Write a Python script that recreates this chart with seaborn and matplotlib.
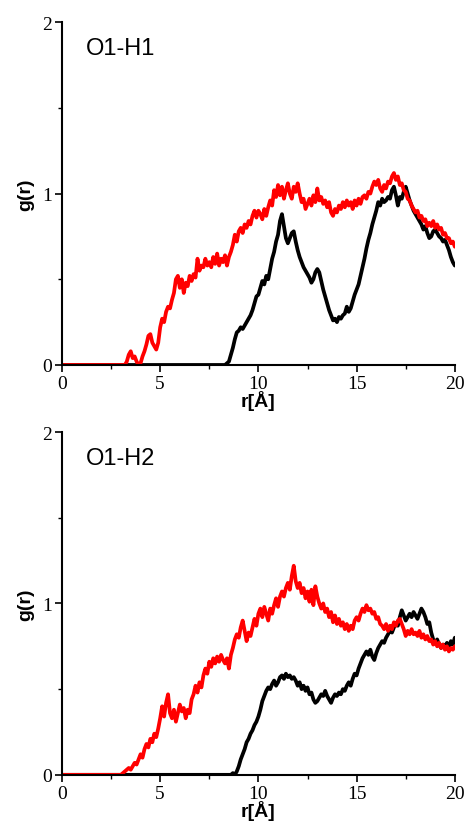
import numpy as np
import pandas as pd
import matplotlib
matplotlib.use('Agg')
import matplotlib.pyplot as plt
import seaborn as sns
from matplotlib.ticker import MultipleLocator

# r grid (Angstrom), 0.1 step
r = np.round(np.arange(0, 20.05, 0.1), 1)

# O1-H1, red curve (zero up to r = 3.1)
h1_red = [0.0] * 32 + [
    0.00, 0.02, 0.06, 0.08, 0.04, 0.05, 0.02, 0.00, 0.01, 0.05,
    0.08, 0.12, 0.17, 0.18, 0.13, 0.11, 0.09, 0.13, 0.22, 0.27,
    0.25, 0.31, 0.34, 0.33, 0.38, 0.42, 0.50, 0.52, 0.45, 0.50,
    0.42, 0.48, 0.46, 0.52, 0.49, 0.53, 0.51, 0.62, 0.55, 0.58,
    0.57, 0.62, 0.58, 0.60, 0.57, 0.63, 0.59, 0.65, 0.58, 0.62,
    0.60, 0.64, 0.58, 0.63, 0.66, 0.70, 0.76, 0.72, 0.78, 0.80,
    0.77, 0.82, 0.80, 0.84, 0.82, 0.87, 0.90, 0.86, 0.90, 0.88,
    0.85, 0.91, 0.87, 0.92, 0.96, 0.93, 1.02, 0.98, 1.05, 0.99,
    1.04, 0.97, 1.02, 1.06, 1.00, 0.97, 1.04, 1.01, 1.06, 1.00,
    0.95, 0.97, 0.91, 0.94, 0.97, 0.93, 0.99, 0.95, 1.03, 0.96,
    0.98, 0.94, 0.96, 0.92, 0.95, 0.89, 0.87, 0.91, 0.89, 0.93,
    0.91, 0.95, 0.92, 0.96, 0.93, 0.95, 0.91, 0.96, 0.93, 0.97,
    0.94, 0.98, 0.99, 0.97, 1.01, 1.00, 1.04, 1.07, 1.05, 1.08,
    1.03, 1.01, 1.05, 1.03, 1.07, 1.06, 1.10, 1.12, 1.08, 1.10,
    1.05, 1.06, 1.02, 1.01, 0.97, 0.96, 0.93, 0.91, 0.89, 0.90,
    0.86, 0.87, 0.84, 0.85, 0.81, 0.83, 0.81, 0.84, 0.80, 0.82,
    0.79, 0.80, 0.76, 0.77, 0.74, 0.74, 0.71, 0.72, 0.69,
]

# O1-H1, black curve (zero up to r = 8.2)
h1_black = [0.0] * 83 + [
    0.00, 0.01, 0.02, 0.06, 0.10, 0.15, 0.19, 0.20, 0.22, 0.21,
    0.23, 0.25, 0.27, 0.29, 0.32, 0.36, 0.40, 0.41, 0.45, 0.49,
    0.47, 0.52, 0.50, 0.56, 0.62, 0.66, 0.72, 0.76, 0.84, 0.88,
    0.81, 0.74, 0.71, 0.74, 0.77, 0.78, 0.72, 0.67, 0.63, 0.60,
    0.57, 0.55, 0.53, 0.51, 0.48, 0.50, 0.54, 0.56, 0.54, 0.49,
    0.44, 0.40, 0.36, 0.32, 0.29, 0.26, 0.27, 0.25, 0.28, 0.27,
    0.29, 0.30, 0.34, 0.31, 0.33, 0.37, 0.41, 0.44, 0.47, 0.52,
    0.57, 0.62, 0.68, 0.73, 0.77, 0.82, 0.86, 0.90, 0.95, 0.93,
    0.97, 0.95, 0.96, 0.98, 0.97, 1.02, 1.04, 0.99, 0.93, 0.98,
    0.97, 1.01, 1.04, 1.00, 0.96, 0.93, 0.90, 0.88, 0.86, 0.84,
    0.82, 0.79, 0.81, 0.77, 0.74, 0.75, 0.78, 0.79, 0.77, 0.75,
    0.74, 0.72, 0.73, 0.70, 0.67, 0.63, 0.60, 0.58,
]

# O1-H2, red curve (zero up to r = 2.9)
h2_red = [0.0] * 30 + [
    0.00, 0.01, 0.02, 0.03, 0.04, 0.03, 0.05, 0.07, 0.06, 0.09,
    0.12, 0.10, 0.15, 0.18, 0.16, 0.21, 0.19, 0.24, 0.22, 0.27,
    0.33, 0.40, 0.34, 0.42, 0.47, 0.36, 0.33, 0.38, 0.31, 0.36,
    0.41, 0.37, 0.39, 0.33, 0.38, 0.36, 0.44, 0.47, 0.52, 0.48,
    0.54, 0.51, 0.58, 0.62, 0.59, 0.66, 0.63, 0.68, 0.65, 0.69,
    0.66, 0.70, 0.67, 0.65, 0.68, 0.62, 0.70, 0.74, 0.79, 0.82,
    0.80, 0.86, 0.90, 0.84, 0.78, 0.83, 0.81, 0.86, 0.91, 0.87,
    0.94, 0.97, 0.92, 0.98, 0.94, 0.90, 0.97, 0.94, 0.99, 1.03,
    0.98, 1.04, 1.07, 1.04, 1.09, 1.12, 1.08, 1.16, 1.22, 1.13,
    1.09, 1.12, 1.06, 1.09, 1.03, 1.07, 1.01, 1.08, 0.99, 1.10,
    1.04, 1.00, 0.97, 1.00, 0.95, 0.97, 0.92, 0.95, 0.89, 0.93,
    0.88, 0.91, 0.87, 0.89, 0.85, 0.88, 0.84, 0.87, 0.85, 0.90,
    0.92, 0.90, 0.94, 0.97, 0.95, 0.99, 0.96, 0.97, 0.94, 0.95,
    0.91, 0.92, 0.88, 0.87, 0.85, 0.88, 0.84, 0.87, 0.85, 0.89,
    0.87, 0.90, 0.91, 0.88, 0.85, 0.81, 0.84, 0.82, 0.85, 0.82,
    0.83, 0.81, 0.84, 0.80, 0.82, 0.79, 0.81, 0.78, 0.79, 0.76,
    0.78, 0.75, 0.77, 0.74, 0.76, 0.73, 0.75, 0.72, 0.74, 0.73,
    0.75,
]

# O1-H2, black curve (zero up to r = 8.5)
h2_black = [0.0] * 86 + [
    0.00, 0.01, 0.00, 0.02, 0.05, 0.09, 0.12, 0.15, 0.19, 0.21,
    0.24, 0.26, 0.29, 0.31, 0.34, 0.38, 0.43, 0.46, 0.49, 0.51,
    0.50, 0.53, 0.55, 0.52, 0.54, 0.57, 0.58, 0.56, 0.59, 0.57,
    0.58, 0.56, 0.57, 0.55, 0.52, 0.54, 0.50, 0.52, 0.49, 0.51,
    0.47, 0.48, 0.44, 0.42, 0.43, 0.45, 0.47, 0.46, 0.49, 0.46,
    0.44, 0.42, 0.45, 0.47, 0.46, 0.48, 0.47, 0.50, 0.49, 0.52,
    0.54, 0.52, 0.56, 0.59, 0.58, 0.62, 0.65, 0.68, 0.70, 0.72,
    0.70, 0.73, 0.69, 0.67, 0.71, 0.74, 0.76, 0.78, 0.77, 0.80,
    0.82, 0.84, 0.83, 0.86, 0.88, 0.87, 0.92, 0.96, 0.93, 0.90,
    0.92, 0.94, 0.92, 0.95, 0.93, 0.91, 0.94, 0.97, 0.95, 0.92,
    0.88, 0.89, 0.83, 0.79, 0.77, 0.79, 0.76, 0.74, 0.76, 0.75,
    0.77, 0.74, 0.78, 0.76, 0.80,
]

panels = [('O1-H1', h1_black, h1_red), ('O1-H2', h2_black, h2_red)]

sns.set_style('ticks', {'axes.edgecolor': 'black', 'text.color': 'black',
                        'xtick.color': 'black', 'ytick.color': 'black',
                        'axes.labelcolor': 'black'})

fig = plt.figure(figsize=(4.66, 8.28), dpi=100)
axes = [fig.add_axes([0.133, 0.558, 0.843, 0.414]),
        fig.add_axes([0.133, 0.063, 0.843, 0.414])]

for ax, (name, black, red) in zip(axes, panels):
    df = pd.DataFrame({'r': r, 'black': black, 'red': red})
    sns.lineplot(data=df, x='r', y='black', color='black', lw=2.7, ax=ax)
    sns.lineplot(data=df, x='r', y='red', color='#ff0000', lw=2.7, ax=ax)

    ax.set_xlim(0, 20)
    ax.set_ylim(0, 2)
    ax.xaxis.set_major_locator(MultipleLocator(5))
    ax.xaxis.set_minor_locator(MultipleLocator(2.5))
    ax.yaxis.set_major_locator(MultipleLocator(1))
    ax.yaxis.set_minor_locator(MultipleLocator(0.5))
    ax.tick_params(which='major', direction='out', length=5, width=1.2,
                   pad=2, labelsize=14, colors='black')
    ax.tick_params(which='minor', direction='out', length=3, width=1.0,
                   colors='black')
    for lab in ax.get_xticklabels() + ax.get_yticklabels():
        lab.set_family('Liberation Serif')

    ax.set_xlabel('r[Å]', fontsize=14, fontweight='bold', color='black',
                  family='Liberation Sans', labelpad=-1)
    ax.set_ylabel('g(r)', fontsize=14, fontweight='bold', color='black',
                  family='Liberation Sans', labelpad=6)
    ax.text(1.2, 1.85, name, fontsize=17, family='Liberation Sans',
            color='black', va='center', ha='left')

    sns.despine(ax=ax)
    ax.spines['left'].set_linewidth(1.5)
    ax.spines['bottom'].set_linewidth(1.5)

fig.savefig('out.png', dpi=100)
